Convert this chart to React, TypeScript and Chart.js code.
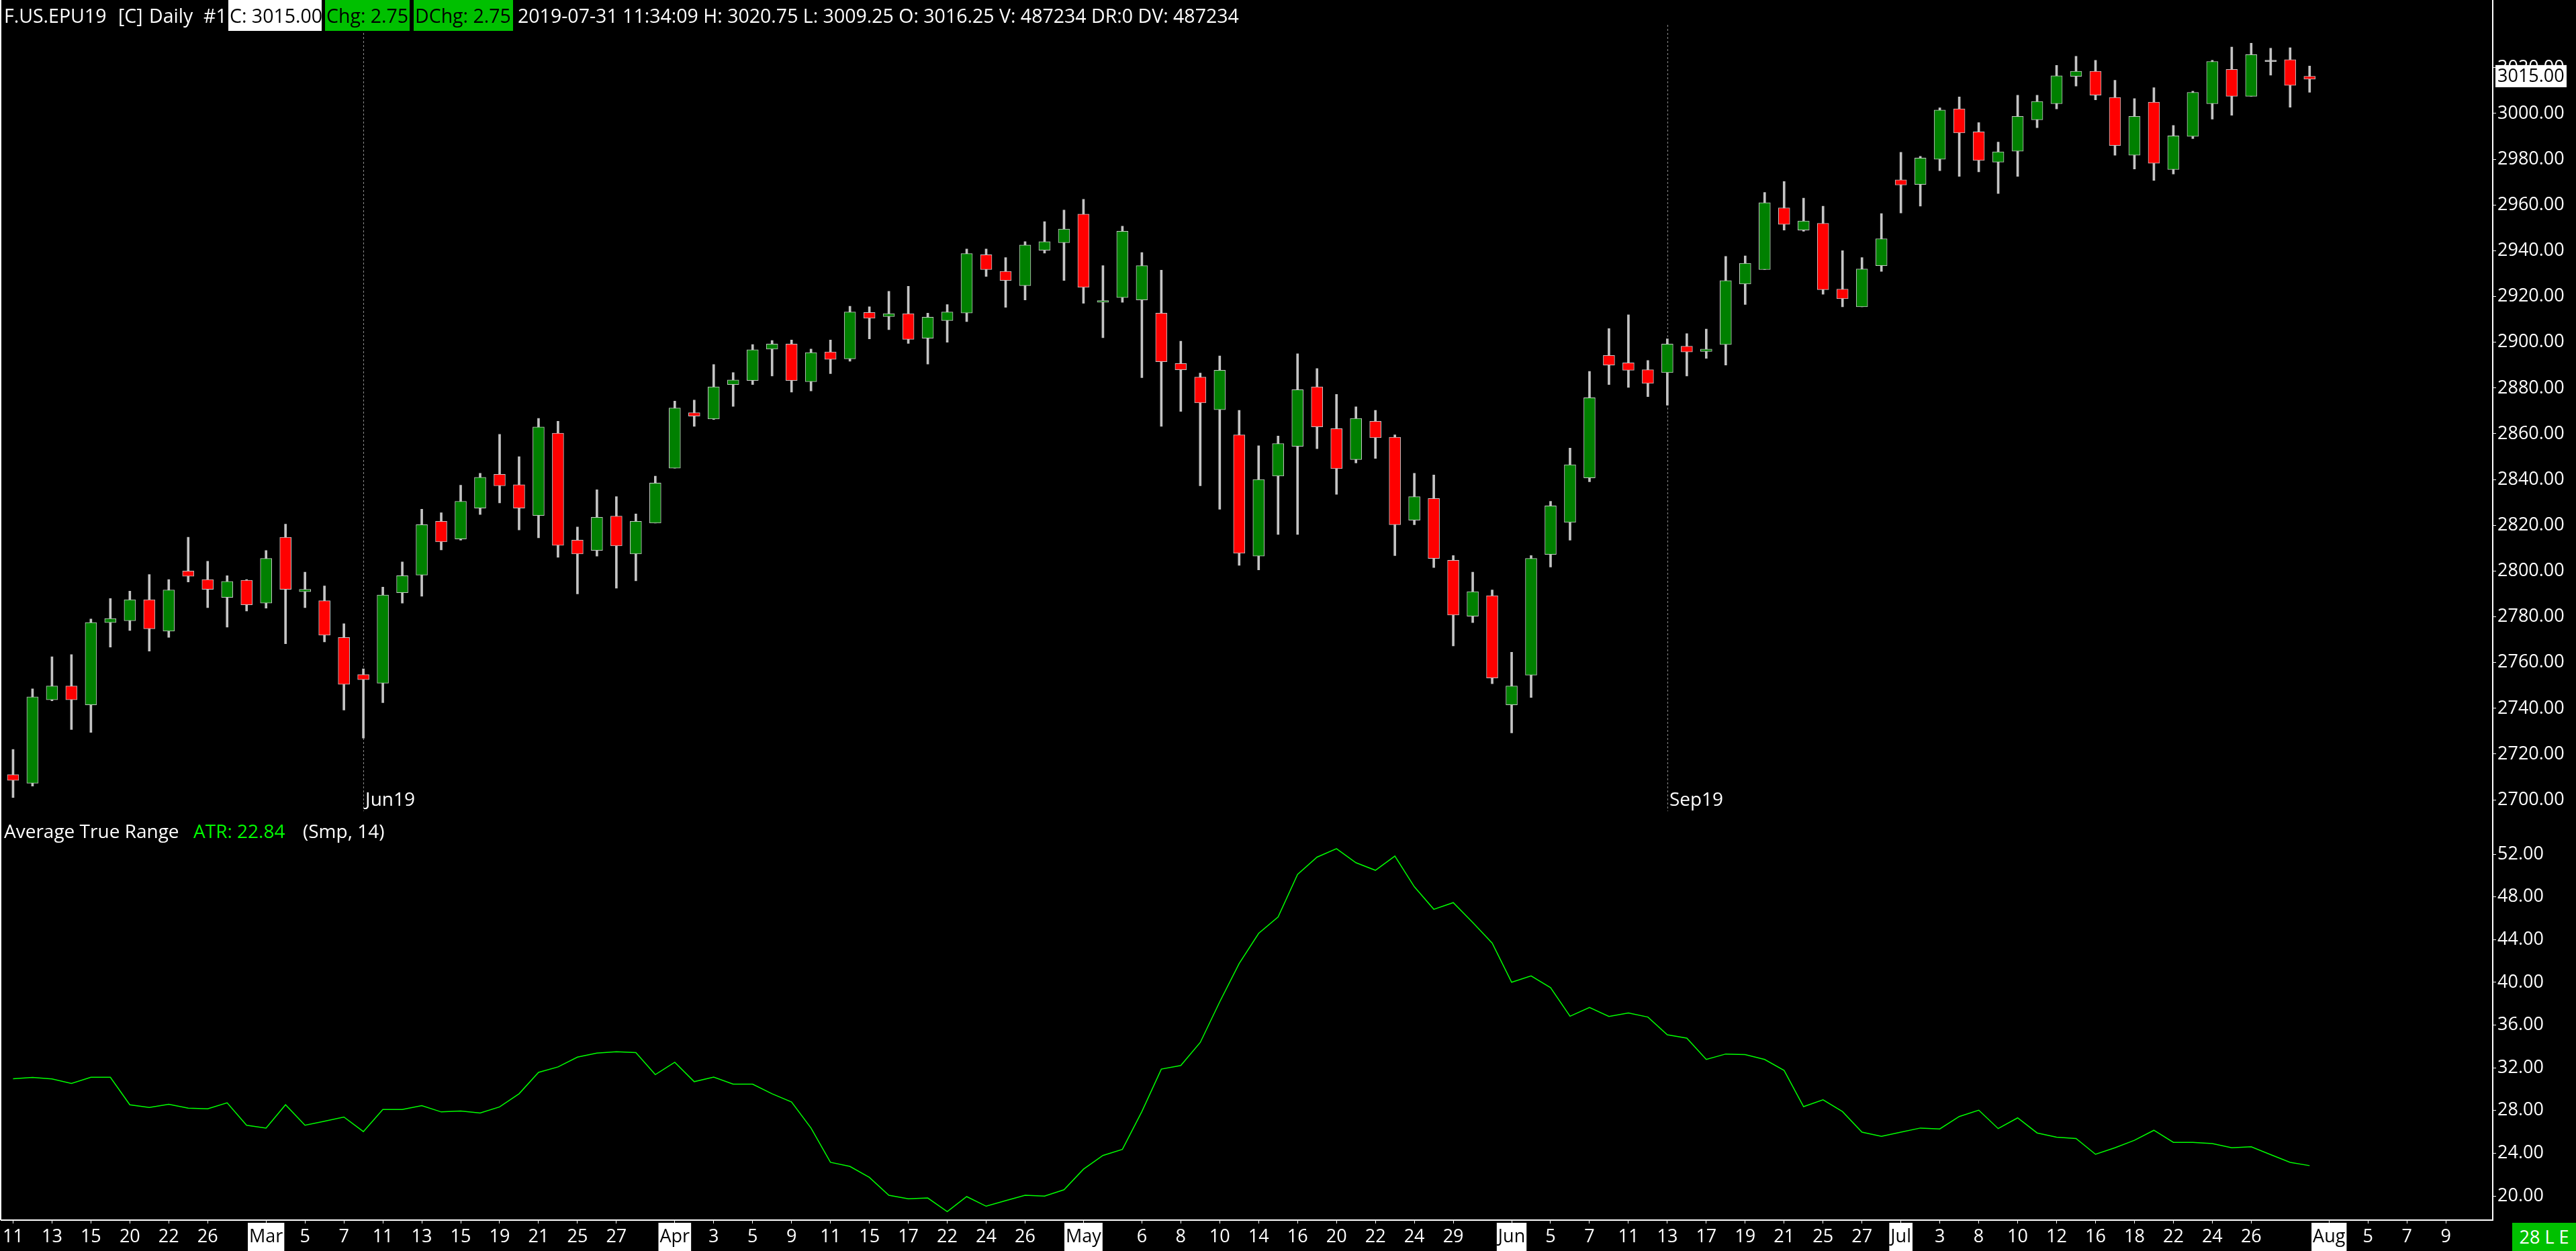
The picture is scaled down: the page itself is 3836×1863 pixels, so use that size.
import React, { useEffect, useRef } from 'react';
import { Chart, registerables } from 'chart.js';

Chart.register(...registerables);

// ---- OHLC data (trading days Feb 11 2019 .. Jul 31 2019) ----
const openP = [
  2711.0, 2707.25, 2743.75, 2749.75, 2741.5, 2777.5, 2778.25, 2787.5, 2773.75, 2800.0,
  2796.25, 2788.5, 2796.0, 2786.0, 2814.75, 2791.0, 2787.0, 2771.0, 2754.75, 2751.0,
  2790.5, 2798.25, 2821.75, 2814.0, 2827.5, 2842.25, 2837.75, 2824.25, 2860.25, 2813.5,
  2809.0, 2824.0, 2807.5, 2821.0, 2845.0, 2869.25, 2866.5, 2881.5, 2883.25, 2897.0,
  2899.25, 2882.75, 2895.75, 2892.75, 2913.0, 2911.25, 2912.5, 2901.75, 2909.5, 2912.75,
  2938.25, 2931.0, 2924.75, 2940.25, 2943.5, 2956.0, 2917.5, 2919.5, 2918.5, 2912.75,
  2890.75, 2884.75, 2870.5, 2859.5, 2806.5, 2841.5, 2854.5, 2880.5, 2862.25, 2848.75,
  2865.5, 2858.5, 2822.25, 2831.75, 2804.75, 2780.25, 2789.25, 2741.5, 2754.5, 2807.25,
  2821.25, 2840.75, 2894.25, 2891.0, 2888.0, 2886.75, 2898.25, 2896.0, 2899.0, 2925.5,
  2931.75, 2958.75, 2949.0, 2952.0, 2923.25, 2915.5, 2933.5, 2971.0, 2969.0, 2980.0,
  3002.0, 2992.0, 2978.75, 2983.5, 2997.25, 3004.25, 3016.25, 3018.5, 3007.0, 2981.75,
  3005.0, 2975.5, 2990.0, 3004.25, 3019.25, 3007.5, 3023.0, 3023.5, 3016.25,
];
const highP = [
  2722.0, 2748.5, 2762.5, 2763.5, 2779.0, 2788.0, 2791.25, 2798.5, 2796.25, 2814.75,
  2804.25, 2798.0, 2796.25, 2809.0, 2820.5, 2799.5, 2793.5, 2777.0, 2757.25, 2793.0,
  2804.0, 2827.0, 2825.5, 2837.5, 2842.75, 2859.75, 2850.0, 2866.75, 2865.5, 2819.25,
  2835.5, 2832.5, 2825.0, 2841.5, 2874.25, 2874.75, 2890.25, 2886.75, 2899.0, 2900.75,
  2901.0, 2897.0, 2901.0, 2915.75, 2915.5, 2922.25, 2924.5, 2912.75, 2916.5, 2940.75,
  2940.75, 2937.0, 2944.0, 2952.75, 2957.75, 2962.5, 2933.5, 2950.75, 2939.25, 2931.5,
  2900.5, 2886.5, 2894.0, 2870.25, 2854.75, 2859.0, 2895.0, 2888.5, 2877.25, 2871.75,
  2870.25, 2859.5, 2842.75, 2842.0, 2806.75, 2799.5, 2791.75, 2764.5, 2806.75, 2830.5,
  2853.75, 2887.25, 2906.0, 2912.0, 2892.0, 2901.5, 2903.75, 2905.75, 2937.5, 2937.75,
  2965.5, 2970.25, 2963.0, 2959.5, 2940.0, 2937.0, 2956.25, 2983.0, 2981.25, 3002.5,
  3007.25, 2996.0, 2987.5, 3008.0, 3008.0, 3021.0, 3025.0, 3023.25, 3014.5, 3006.5,
  3011.25, 2994.75, 3009.75, 3023.25, 3029.0, 3030.75, 3028.5, 3028.75, 3020.75,
];
const lowP = [
  2701.0, 2706.0, 2743.25, 2730.75, 2729.5, 2766.75, 2774.0, 2765.0, 2771.0, 2795.25,
  2784.0, 2775.5, 2782.5, 2783.75, 2768.25, 2784.0, 2769.0, 2739.25, 2727.0, 2742.5,
  2786.0, 2789.0, 2809.25, 2813.5, 2824.75, 2829.75, 2818.0, 2814.5, 2806.0, 2790.0,
  2806.5, 2792.5, 2795.75, 2821.0, 2845.0, 2863.25, 2866.25, 2872.0, 2881.5, 2885.25,
  2878.25, 2878.75, 2886.25, 2891.75, 2901.5, 2905.5, 2899.5, 2890.5, 2900.0, 2909.0,
  2928.75, 2915.25, 2918.5, 2939.0, 2927.0, 2917.0, 2902.0, 2917.5, 2884.5, 2863.25,
  2869.75, 2837.25, 2827.0, 2802.5, 2800.5, 2816.0, 2816.0, 2853.5, 2833.5, 2847.25,
  2849.25, 2806.75, 2820.25, 2801.5, 2767.25, 2777.5, 2750.75, 2729.25, 2744.75, 2801.75,
  2813.5, 2839.0, 2881.5, 2880.25, 2876.25, 2872.5, 2885.25, 2893.0, 2890.0, 2916.5,
  2931.75, 2949.0, 2948.5, 2921.0, 2915.5, 2915.5, 2931.0, 2956.5, 2959.5, 2975.0,
  2972.5, 2974.5, 2965.0, 2972.5, 2993.75, 3002.0, 3012.0, 3006.0, 2981.75, 2975.75,
  2970.75, 2973.5, 2989.0, 2997.5, 2999.25, 3007.5, 3016.75, 3002.75, 3009.25,
];
const closeP = [
  2708.5, 2745.0, 2749.75, 2743.75, 2777.5, 2779.25, 2787.5, 2774.75, 2791.75, 2797.75,
  2792.0, 2795.5, 2785.25, 2805.5, 2792.0, 2792.0, 2772.0, 2750.5, 2752.5, 2789.5,
  2798.0, 2820.25, 2812.75, 2830.5, 2841.0, 2837.25, 2827.5, 2863.0, 2811.25, 2807.5,
  2823.5, 2811.0, 2821.75, 2838.5, 2871.25, 2867.75, 2880.5, 2883.5, 2896.75, 2899.25,
  2883.25, 2895.5, 2892.5, 2913.25, 2910.5, 2912.5, 2901.25, 2911.0, 2913.25, 2938.75,
  2931.75, 2927.0, 2942.5, 2944.0, 2949.5, 2924.0, 2918.25, 2948.5, 2933.5, 2891.5,
  2888.0, 2873.5, 2887.75, 2807.75, 2840.0, 2855.75, 2879.25, 2863.0, 2844.75, 2866.75,
  2858.25, 2820.25, 2832.5, 2805.5, 2780.75, 2791.0, 2753.25, 2749.75, 2805.5, 2828.5,
  2846.5, 2875.75, 2890.0, 2887.75, 2882.0, 2899.25, 2895.75, 2897.0, 2927.0, 2934.5,
  2961.0, 2951.5, 2953.0, 2923.0, 2919.0, 2932.0, 2945.25, 2968.75, 2980.5, 3001.5,
  2991.5, 2979.5, 2983.25, 2998.75, 3005.25, 3016.5, 3018.5, 3008.0, 2986.0, 2998.75,
  2978.25, 2990.25, 3009.25, 3022.75, 3007.5, 3025.75, 3023.0, 3012.25, 3015.0,
];
// ---- Average True Range (Smp, 14) ----
const atrValues = [
  30.98, 31.1, 30.96, 30.54, 31.11, 31.11, 28.54, 28.29, 28.59, 28.23,
  28.16, 28.72, 26.62, 26.36, 28.54, 26.62, 27.0, 27.39, 26.03, 28.1,
  28.1, 28.46, 27.87, 27.95, 27.77, 28.34, 29.57, 31.57, 32.08, 33.0,
  33.37, 33.5, 33.42, 31.36, 32.52, 30.7, 31.13, 30.47, 30.47, 29.57,
  28.8, 26.36, 23.15, 22.77, 21.74, 20.07, 19.74, 19.81, 18.53, 19.94,
  19.04, 19.56, 20.07, 19.99, 20.58, 22.51, 23.79, 24.36, 27.9, 31.88,
  32.21, 34.37, 38.17, 41.76, 44.58, 46.12, 50.1, 51.72, 52.51, 51.2,
  50.49, 51.82, 48.95, 46.84, 47.46, 45.61, 43.68, 40.01, 40.6, 39.5,
  36.83, 37.65, 36.81, 37.14, 36.75, 35.09, 34.78, 32.78, 33.29, 33.24,
  32.78, 31.75, 28.36, 29.0, 27.9, 25.97, 25.59, 25.97, 26.36, 26.28,
  27.44, 28.03, 26.31, 27.31, 25.9, 25.51, 25.38, 23.9, 24.51, 25.21,
  26.15, 25.02, 25.02, 24.9, 24.51, 24.61, 23.87, 23.15, 22.84,
];
// ---- x-axis tick labels (bar index -> text) ----
const xTickIndex = [
  0, 2, 4, 6, 8, 10, 13, 15, 17, 19, 21, 23, 25, 27, 29, 31, 34, 36, 38, 40, 42, 44, 46, 48, 50, 52,
  55, 58, 60, 62, 64, 66, 68, 70, 72, 74, 77, 79, 81, 83, 85, 87, 89, 91, 93, 95, 97, 99, 101, 103,
  105, 107, 109, 111, 113, 115, 119, 121, 123, 125,
];
const xTickText = [
  '11', '13', '15', '20', '22', '26', 'Mar', '5', '7', '11', '13', '15', '19', '21', '25', '27', 'Apr', '3', '5', '9', '11', '15', '17', '22', '24', '26',
  'May', '6', '8', '10', '14', '16', '20', '22', '24', '29', 'Jun', '5', '7', '11', '13', '17', '19', '21', '25', '27', 'Jul', '3', '8', '10',
  '12', '16', '18', '22', '24', '26', 'Aug', '5', '7', '9',
];
const monthNames = ['Mar', 'Apr', 'May', 'Jun', 'Jul', 'Aug'];
const priceTicks = [2700, 2720, 2740, 2760, 2780, 2800, 2820, 2840, 2860, 2880, 2900, 2920, 2940, 2960, 2980, 3000, 3020];
const atrTicks = [20, 24, 28, 32, 36, 40, 44, 48, 52];
// contract roll markers
const rollIndex = [18, 85];
const rollText = ['Jun19', 'Sep19'];

// axis ranges
const X_MIN = -0.586;
const X_MAX = 127.41;
const P_MIN = 2691.52;
const P_MAX = 3037.86;
const A_MIN = 17.74;
const A_MAX = 55.27;

const FONT = '"Open Sans", "DejaVu Sans", sans-serif';

const overlayPlugin = {
  id: 'overlay',
  beforeDatasetsDraw(chart: any) {
    const { ctx, chartArea } = chart;
    const xs = chart.scales.x;
    const yP = chart.scales.yPrice;
    ctx.save();
    ctx.strokeStyle = '#8c8c8c';
    ctx.lineWidth = 1;
    ctx.setLineDash([3, 3]);
    rollIndex.forEach((idx) => {
      const px = Math.round(xs.getPixelForValue(idx)) + 0.5;
      ctx.beginPath();
      ctx.moveTo(px, chartArea.top - 3);
      ctx.lineTo(px, yP.bottom - 12);
      ctx.stroke();
    });
    ctx.setLineDash([]);
    ctx.fillStyle = '#ffffff';
    ctx.font = '28px ' + FONT;
    ctx.textAlign = 'left';
    ctx.textBaseline = 'alphabetic';
    rollIndex.forEach((idx, k) => {
      ctx.fillText(rollText[k], xs.getPixelForValue(idx) + 3, yP.bottom - 20);
    });
    ctx.restore();
  },
  afterDraw(chart: any) {
    const { ctx, chartArea } = chart;
    const yP = chart.scales.yPrice;
    ctx.save();
    ctx.fillStyle = '#ffffff';
    ctx.fillRect(chartArea.right - 1, 0, 2, chartArea.top + 1);
    ctx.fillRect(0, 0, 2, chartArea.bottom);
    const last = closeP[closeP.length - 1];
    const py = yP.getPixelForValue(last);
    ctx.fillStyle = '#ffffff';
    ctx.fillRect(chartArea.right + 4, py - 21, 106, 33);
    ctx.fillStyle = '#000000';
    ctx.font = '27px ' + FONT;
    ctx.textAlign = 'left';
    ctx.textBaseline = 'middle';
    ctx.fillText(last.toFixed(2), chartArea.right + 7, py - 4);
    ctx.restore();
  },
};

export default function App() {
  const ref = useRef<HTMLCanvasElement>(null);

  useEffect(() => {
    document.body.style.margin = '0';
    document.body.style.background = '#000';
    const bodyData = openP.map((o, i) => {
      const c = closeP[i];
      const lo = Math.min(o, c);
      const hi = Math.max(o, c);
      return { x: i, y: lo === hi ? [lo - 0.3, hi + 0.3] : [lo, hi] };
    });
    const bodyColors = openP.map((o, i) => (closeP[i] > o ? '#008000' : closeP[i] < o ? '#ff0000' : '#c4c4c4'));
    const wickData = highP.map((h, i) => ({ x: i, y: [lowP[i], h] }));
    const atrData = atrValues.map((v, i) => ({ x: i, y: v }));
    const isMonth = (i: number) => monthNames.includes(xTickText[i]);

    const chart = new Chart(ref.current as HTMLCanvasElement, {
      type: 'bar',
      data: {
        datasets: [
          {
            type: 'bar',
            label: 'body',
            data: bodyData as any,
            xAxisID: 'x',
            yAxisID: 'yPrice',
            backgroundColor: bodyColors,
            borderColor: '#c8c8c8',
            borderWidth: 1,
            borderSkipped: false,
            barThickness: 17,
            grouped: false,
            order: 0,
          } as any,
          {
            type: 'bar',
            label: 'wick',
            data: wickData as any,
            xAxisID: 'x',
            yAxisID: 'yPrice',
            backgroundColor: '#c4c4c4',
            borderWidth: 0,
            barThickness: 3,
            grouped: false,
            order: 1,
          } as any,
          {
            type: 'line',
            label: 'ATR',
            data: atrData as any,
            xAxisID: 'x',
            yAxisID: 'yAtr',
            borderColor: '#00ff00',
            borderWidth: 1.5,
            pointRadius: 0,
            tension: 0,
            fill: false,
            order: 2,
          } as any,
        ],
      },
      options: {
        responsive: false,
        animation: false,
        devicePixelRatio: 1,
        layout: { padding: { top: 40, left: 0, right: 0, bottom: 0 } },
        plugins: { legend: { display: false }, tooltip: { enabled: false } },
        scales: {
          x: {
            type: 'linear',
            position: 'bottom',
            min: X_MIN,
            max: X_MAX,
            offset: false,
            bounds: 'data',
            afterBuildTicks: (s: any) => {
              s.ticks = xTickIndex.map((v) => ({ value: v }));
            },
            afterFit: (s: any) => {
              s.height = 46;
            },
            grid: { display: true, offset: false, drawOnChartArea: false, drawTicks: true, tickLength: 5, color: '#ffffff', lineWidth: 1 },
            border: { display: true, color: '#ffffff', width: 2 },
            ticks: {
              autoSkip: false,
              maxRotation: 0,
              minRotation: 0,
              padding: 4,
              font: { family: FONT, size: 27 },
              color: (c: any) => (isMonth(c.index) ? '#000000' : '#ffffff'),
              showLabelBackdrop: (c: any) => isMonth(c.index),
              backdropColor: '#ffffff',
              backdropPadding: { top: 5, bottom: 5, left: 2, right: 2 },
              callback: (_v: any, i: number) => xTickText[i],
            } as any,
          },
          yPrice: {
            type: 'linear',
            position: 'right',
            stack: 'panes',
            stackWeight: 1180,
            min: P_MIN,
            max: P_MAX,
            bounds: 'data',
            beginAtZero: false,
            afterBuildTicks: (s: any) => {
              s.ticks = priceTicks.map((v) => ({ value: v }));
            },
            afterFit: (s: any) => {
              s.width = 124;
            },
            grid: { display: true, drawOnChartArea: false, drawTicks: true, tickLength: 5, color: '#ffffff' },
            border: { display: true, color: '#ffffff', width: 2 },
            ticks: {
              autoSkip: false,
              padding: 2,
              font: { family: FONT, size: 27 },
              color: '#ffffff',
              callback: (v: any) => Number(v).toFixed(2),
            },
          } as any,
          yAtr: {
            type: 'linear',
            position: 'right',
            stack: 'panes',
            stackWeight: 597,
            min: A_MIN,
            max: A_MAX,
            bounds: 'data',
            beginAtZero: false,
            afterBuildTicks: (s: any) => {
              s.ticks = atrTicks.map((v) => ({ value: v }));
            },
            afterFit: (s: any) => {
              s.width = 124;
            },
            grid: { display: true, drawOnChartArea: false, drawTicks: true, tickLength: 5, color: '#ffffff' },
            border: { display: true, color: '#ffffff', width: 2 },
            ticks: {
              autoSkip: false,
              padding: 2,
              font: { family: FONT, size: 27 },
              color: '#ffffff',
              callback: (v: any) => Number(v).toFixed(2),
            },
          } as any,
        },
      },
      plugins: [overlayPlugin],
    });
    return () => chart.destroy();
  }, []);

  const n = closeP.length - 1;
  const chg = closeP[n] - closeP[n - 1];
  const hdr: React.CSSProperties = {
    position: 'absolute',
    top: 0,
    height: 46,
    lineHeight: '46px',
    fontSize: 28.5,
    fontFamily: FONT,
    color: '#ffffff',
    whiteSpace: 'pre',
    boxSizing: 'border-box',
  };
  const lbl: React.CSSProperties = {
    position: 'absolute',
    top: 1218,
    height: 38,
    lineHeight: '38px',
    fontSize: 28,
    fontFamily: FONT,
    color: '#ffffff',
    whiteSpace: 'pre',
  };

  return (
    <div style={{ position: 'fixed', left: 0, top: 0, width: 3836, height: 1863, background: '#000', overflow: 'hidden' }}>
      <canvas ref={ref} width={3836} height={1863} style={{ position: 'absolute', left: 0, top: 0, width: 3836, height: 1863 }} />
      <div style={{ ...hdr, left: 6 }}>F.US.EPU19</div>
      <div style={{ ...hdr, left: 176 }}>[C]</div>
      <div style={{ ...hdr, left: 222 }}>Daily</div>
      <div style={{ ...hdr, left: 303 }}>#1</div>
      <div style={{ ...hdr, left: 340, width: 139, paddingLeft: 2, background: '#ffffff', color: '#000000' }}>
        {'C: ' + closeP[n].toFixed(2)}
      </div>
      <div style={{ ...hdr, left: 484, width: 126, paddingLeft: 2, background: '#00c000', color: '#000000' }}>
        {'Chg: ' + chg.toFixed(2)}
      </div>
      <div style={{ ...hdr, left: 616, width: 148, paddingLeft: 2, background: '#00c000', color: '#000000' }}>
        {'DChg: ' + chg.toFixed(2)}
      </div>
      <div style={{ ...hdr, left: 771 }}>
        {'2019-07-31 11:34:09 H: ' + highP[n].toFixed(2) + ' L: ' + lowP[n].toFixed(2) + ' O: ' + openP[n].toFixed(2) + ' V: 487234 DR:0 DV: 487234'}
      </div>
      <div style={{ ...lbl, left: 6 }}>Average True Range</div>
      <div style={{ ...lbl, left: 288, color: '#00ff00' }}>{'ATR: ' + atrValues[n].toFixed(2)}</div>
      <div style={{ ...lbl, left: 451 }}>(Smp, 14)</div>
      <div
        style={{
          position: 'absolute',
          left: 3741,
          top: 1821,
          width: 95,
          height: 42,
          lineHeight: '42px',
          background: '#00c000',
          color: '#ffffff',
          fontSize: 27,
          fontFamily: FONT,
          textAlign: 'center',
          whiteSpace: 'pre',
        }}
      >
        28 L E
      </div>
    </div>
  );
}
